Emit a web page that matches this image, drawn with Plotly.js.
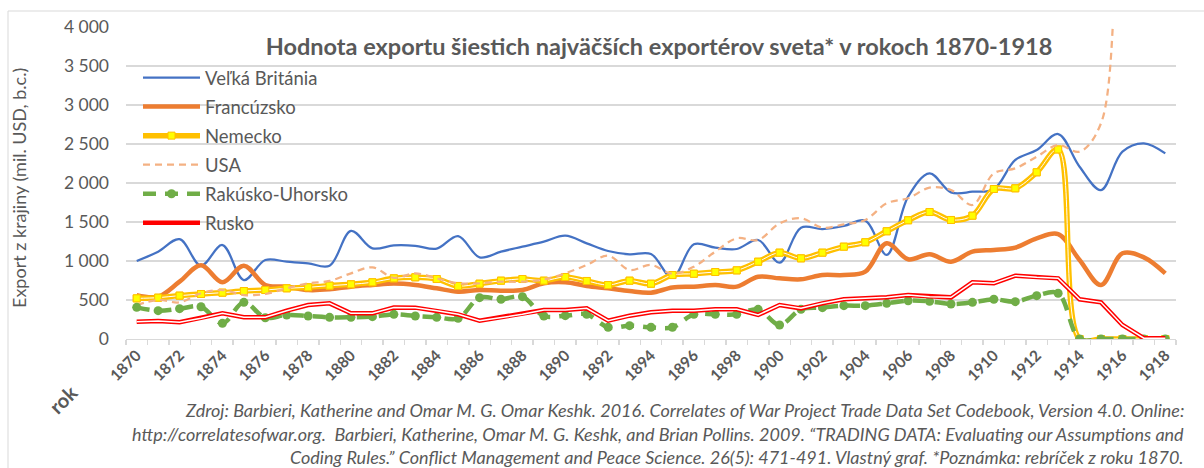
<!DOCTYPE html>
<html>
<head>
<meta charset="utf-8">
<script src="https://cdn.plot.ly/plotly-3.0.1.min.js"></script>
<style>
  html, body { margin: 0; padding: 0; background: #ffffff; }
  #chart { width: 1204px; height: 468px; }
</style>
</head>
<body>
<div id="chart"></div>
<script>
// ---- Data ----
const years = [1870,1871,1872,1873,1874,1875,1876,1877,1878,1879,
               1880,1881,1882,1883,1884,1885,1886,1887,1888,1889,
               1890,1891,1892,1893,1894,1895,1896,1897,1898,1899,
               1900,1901,1902,1903,1904,1905,1906,1907,1908,1909,
               1910,1911,1912,1913,1914,1915,1916,1917,1918];

const velkaBritania = [1000,1120,1280,940,1205,756,1013,991,970,940,
                       1385,1162,1200,1195,1158,1320,1047,1120,1184,1248,
                       1325,1226,1128,1085,1090,785,1214,1171,1154,1269,
                       978,1427,1410,1449,1517,1077,1825,2124,1880,1888,
                       1920,2295,2423,2628,2209,1910,2402,2509,2380];

const francuzsko = [560,543,735,945,727,940,692,671,628,637,
                    671,692,710,692,650,607,628,619,628,714,
                    727,680,650,615,594,660,671,692,671,799,
                    778,765,820,820,863,1227,1022,1088,991,1120,
                    1141,1171,1291,1346,1013,692,1099,1047,842];

const nemecko = [521,530,556,577,594,615,628,650,663,684,
                 701,727,778,791,769,680,709,748,769,748,
                 795,744,692,748,709,820,837,859,880,991,
                 1107,1034,1107,1184,1240,1381,1522,1628,1526,1581,
                 1923,1932,2137,2430,0,0,0,0,0];

const usa = [436,500,470,586,628,564,577,650,714,744,
             842,919,785,842,778,714,714,735,735,765,
             842,949,1068,885,949,838,927,1120,1291,1269,
             1483,1547,1427,1470,1526,1740,1804,1940,1910,1718,
             2124,2188,2337,2487,2402,2765,5480,6230,6150];

const rakuskoUhorsko = [406,363,389,414,201,470,273,308,295,278,
                        278,286,316,295,278,265,530,509,543,295,
                        299,316,150,171,150,150,316,316,316,380,
                        180,380,402,427,427,457,491,483,449,470,
                        509,479,556,586,0,0,0,0,0];

const rusko = [222,231,214,265,329,278,278,363,436,457,
               329,329,404,402,363,316,235,278,316,372,
               372,393,235,299,342,363,363,380,380,308,
               436,393,457,509,521,534,564,543,534,727,
               714,812,791,778,509,470,180,10,10];

const seriesNames = ['Veľká Británia','Francúzsko','Nemecko','USA','Rakúsko-Uhorsko','Rusko'];
const yTicks = [0,500,1000,1500,2000,2500,3000,3500,4000];
const xTickLabels = [1870,1872,1874,1876,1878,1880,1882,1884,1886,1888,1890,1892,1894,1896,1898,
                     1900,1902,1904,1906,1908,1910,1912,1914,1916,1918];

const titleText = 'Hodnota exportu šiestich najväčších exportérov sveta* v rokoch 1870-1918';
const yTitle = 'Export z krajiny (mil. USD, b.c.)';
const xTitle = 'rok';
const captionLines = [
  'Zdroj: Barbieri, Katherine and Omar M. G. Omar Keshk. 2016. Correlates of War Project Trade Data Set Codebook, Version 4.0. Online:',
  'http://correlatesofwar.org.  Barbieri, Katherine, Omar M. G. Keshk, and Brian Pollins. 2009. “TRADING DATA: Evaluating our Assumptions and',
  'Coding Rules.” Conflict Management and Peace Science. 26(5): 471-491. Vlastný graf. *Poznámka: rebríček z roku 1870.'
];

// ---- Styling ----
const FONT = 'Lato, "Open Sans", sans-serif';
const GREY = '#595959';

const traces = [
  { x: years, y: velkaBritania, name: seriesNames[0], type: 'scatter', mode: 'lines',
    line: { color: '#4472C4', width: 2.25, shape: 'spline', smoothing: 1 }, legendgroup: 'a' },
  { x: years, y: francuzsko, name: seriesNames[1], type: 'scatter', mode: 'lines',
    line: { color: '#ED7D31', width: 4.5, shape: 'spline', smoothing: 1 }, legendgroup: 'b' },
  { x: years, y: nemecko, name: seriesNames[2], type: 'scatter', mode: 'lines+markers',
    line: { color: '#FFC000', width: 5.5, shape: 'spline', smoothing: 1 },
    marker: { symbol: 'square', size: 7, color: '#FFFF00', line: { color: '#FFC000', width: 1 } },
    legendgroup: 'c' },
  { x: years, y: nemecko, name: seriesNames[2], type: 'scatter', mode: 'lines', showlegend: false,
    hoverinfo: 'skip', line: { color: '#ffffff', width: 1, shape: 'spline', smoothing: 1 }, legendgroup: 'c' },
  { x: years, y: nemecko, name: seriesNames[2], type: 'scatter', mode: 'markers', showlegend: false,
    hoverinfo: 'skip',
    marker: { symbol: 'square', size: 7, color: '#FFFF00', line: { color: '#FFC000', width: 1 } },
    legendgroup: 'c' },
  { x: years, y: usa, name: seriesNames[3], type: 'scatter', mode: 'lines',
    line: { color: '#F4B183', width: 2.25, dash: '7px,5px', shape: 'spline', smoothing: 1 }, legendgroup: 'd' },
  { x: years, y: rakuskoUhorsko, name: seriesNames[4], type: 'scatter', mode: 'lines+markers',
    line: { color: '#70AD47', width: 4.5, dash: '13px,9px', shape: 'spline', smoothing: 1 },
    marker: { symbol: 'circle', size: 9, color: '#70AD47' }, legendgroup: 'e' },
  { x: years, y: rusko, name: seriesNames[5], type: 'scatter', mode: 'lines',
    line: { color: '#FF0000', width: 4.5, shape: 'linear' }, legendgroup: 'f' },
  { x: years, y: rusko, name: seriesNames[5], type: 'scatter', mode: 'lines', showlegend: false,
    hoverinfo: 'skip', line: { color: '#ffffff', width: 1.5, shape: 'linear' }, legendgroup: 'f' }
];

const L = 126, R = 28, T = 27, B = 129, W = 1204, H = 468;
const plotW = W - L - R, plotH = H - T - B;
const px2x = p => (p - L) / plotW;
const py2y = p => (H - B - p) / plotH;

const annotations = [
  { text: yTitle, xref: 'paper', yref: 'paper', x: px2x(19), y: py2y(188), textangle: -90,
    showarrow: false, xanchor: 'center', yanchor: 'middle',
    font: { family: FONT, size: 18, color: GREY } },
  { text: xTitle, xref: 'paper', yref: 'paper', x: px2x(63), y: py2y(399), textangle: -45,
    showarrow: false, xanchor: 'center', yanchor: 'middle',
    font: { family: FONT, size: 20, color: GREY, weight: 'bold' } }
];
const capY = [410, 434, 457];
captionLines.forEach((t, i) => annotations.push({
  text: t, xref: 'paper', yref: 'paper', x: px2x(1186), y: py2y(capY[i]), showarrow: false,
  xanchor: 'right', yanchor: 'middle', align: 'right',
  font: { family: FONT, size: 18, color: GREY, style: 'italic' }
}));

const layout = {
  width: W, height: H,
  margin: { l: L, r: R, t: T, b: B, pad: 0 },
  paper_bgcolor: '#ffffff', plot_bgcolor: '#ffffff',
  separators: ', ',
  font: { family: FONT, color: GREY },
  title: { text: titleText, xref: 'paper', x: px2x(659), xanchor: 'center',
           yref: 'container', y: 1 - 47 / H, yanchor: 'middle',
           font: { family: FONT, size: 23.5, color: GREY, weight: 'bold' } },
  showlegend: true,
  legend: { x: px2x(138), y: py2y(59), xanchor: 'left', yanchor: 'top',
            bgcolor: 'rgba(0,0,0,0)', traceorder: 'grouped', tracegroupgap: 2,
            itemwidth: 57, font: { family: FONT, size: 18.5, color: GREY } },
  xaxis: {
    range: [1869.5, 1918.5], tickmode: 'array', tickvals: xTickLabels, ticktext: xTickLabels.map(String),
    tickangle: -45, ticks: '', showgrid: false, zeroline: false,
    showline: true, linecolor: '#D9D9D9', linewidth: 1.3,
    tickfont: { family: FONT, size: 15.5, color: GREY, weight: 'bold' },
    minor: { ticks: 'outside', tick0: 1869.5, dtick: 1, ticklen: 5, tickcolor: '#D9D9D9', tickwidth: 1.3, showgrid: false },
    fixedrange: true
  },
  yaxis: {
    range: [0, 4000], tickmode: 'array', tickvals: yTicks, separatethousands: true, tickformat: ',d',
    showgrid: true, gridcolor: '#D9D9D9', gridwidth: 1.3, zeroline: false, showline: false,
    ticks: '', ticklabelstandoff: 16,
    tickfont: { family: FONT, size: 17.5, color: GREY }, fixedrange: true
  },
  annotations: annotations,
  shapes: [
    { type: 'rect', xref: 'paper', yref: 'paper', x0: px2x(8), y0: py2y(11), x1: px2x(1215), y1: py2y(480),
      line: { color: '#D9D9D9', width: 1 }, fillcolor: 'rgba(0,0,0,0)', layer: 'below' }
  ]
};

Plotly.newPlot('chart', traces, layout, { staticPlot: true, displayModeBar: false });
</script>
</body>
</html>
